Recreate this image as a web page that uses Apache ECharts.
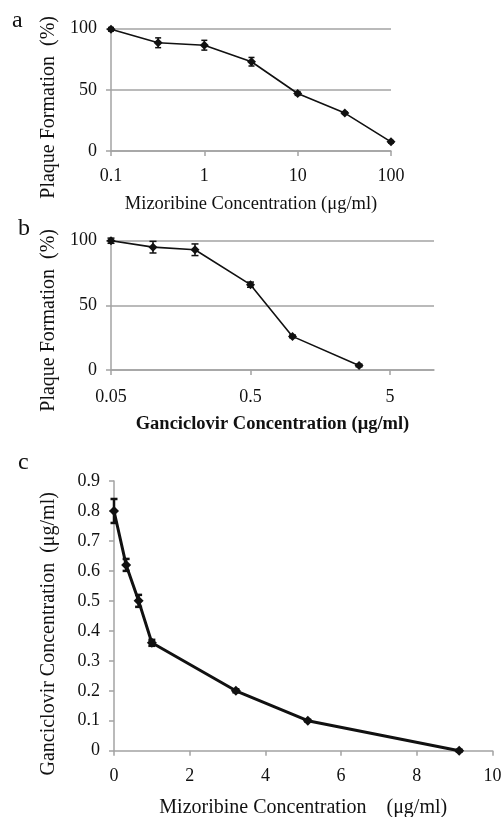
<!DOCTYPE html>
<html>
<head>
<meta charset="utf-8">
<script src="https://cdn.jsdelivr.net/npm/echarts@6/dist/echarts.min.js"></script>
<style>
  html, body { margin: 0; padding: 0; background: #fff; }
  #chart { width: 503px; height: 817px; }
</style>
</head>
<body>
<div id="chart"></div>
<script>
// panel a: mizoribine alone
let mizA = [0.1, 0.32, 1, 3.2, 10, 32, 100];
let plaqueA = [99.5, 88.5, 86.5, 73, 47, 31, 7.5];
let errA = [1.5, 4, 4, 3.5, 1.5, 1, 1];

// panel b: ganciclovir alone
let gcvB = [0.05, 0.1, 0.2, 0.5, 1, 3];
let plaqueB = [100, 95, 93, 66, 26, 3.5];
let errB = [2, 4.5, 4.5, 2, 1, 1];

// panel c: isobologram
let mizC = [0, 0.32, 0.65, 1.0, 3.22, 5.12, 9.12];
let gcvC = [0.8, 0.62, 0.5, 0.36, 0.2, 0.1, 0];
let errC = [0.04, 0.02, 0.02, 0.01, 0.005, 0.003, 0.003];

let ticksA = [0.1, 1, 10, 100];
let ticksB = [0.05, 0.5, 5];

let FONT = '"Liberation Serif", "Times New Roman", serif';
let AXIS = '#a3a3a3';
let INK = '#111';

let myChart = echarts.init(document.getElementById('chart'));

function pairs(xs, ys) {
	return xs.map((x, i) => [x, ys[i]]);
}
function bars(xs, ys, es) {
	return xs.map((x, i) => [x, ys[i] - es[i], ys[i] + es[i]]);
}

function errorItem(cap, width) {
	return function (params, api) {
		let top = api.coord([api.value(0), api.value(2)]);
		let bot = api.coord([api.value(0), api.value(1)]);
		let st = { stroke: INK, lineWidth: width };
		return {
			type: 'group',
			children: [
				{ type: 'line', shape: { x1: top[0], y1: top[1], x2: bot[0], y2: bot[1] }, style: st },
				{ type: 'line', shape: { x1: top[0] - cap, y1: top[1], x2: top[0] + cap, y2: top[1] }, style: st },
				{ type: 'line', shape: { x1: bot[0] - cap, y1: bot[1], x2: bot[0] + cap, y2: bot[1] }, style: st }
			]
		};
	};
}

let label = { color: INK, fontFamily: FONT, fontSize: 18 };
let nameStyle = { color: INK, fontFamily: FONT, fontSize: 18.5 };
let vNameStyle = { color: INK, fontFamily: FONT, fontSize: 20 };
let line = { show: true, lineStyle: { color: AXIS, width: 1.5 } };
let tick = { show: true, length: 5, lineStyle: { color: AXIS, width: 1.5 } };
let grid = { show: true, lineStyle: { color: AXIS, width: 1.5 } };

option = {
	animation: false,
	backgroundColor: '#fff',
	graphic: [
		{ type: 'text', left: 12, top: 9, style: { text: 'a', font: '24px ' + FONT, fill: INK } },
		{ type: 'text', left: 18, top: 217, style: { text: 'b', font: '24px ' + FONT, fill: INK } },
		{ type: 'text', left: 18, top: 451, style: { text: 'c', font: '24px ' + FONT, fill: INK } }
	],
	grid: [
		{ left: 111, right: 112, top: 28.7, height: 122.3, outerBoundsMode: 'none' },
		{ left: 111, right: 69, top: 240.7, height: 129.3, outerBoundsMode: 'none' },
		{ left: 114, right: 10.5, top: 481, height: 269.7, outerBoundsMode: 'none' }
	],
	xAxis: [
		{
			gridIndex: 0, type: 'log', logBase: 10, min: 0.1, max: 100,
			name: 'Mizoribine Concentration (μg/ml)', nameLocation: 'middle', nameGap: 44,
			nameTextStyle: nameStyle,
			axisLine: line, axisTick: Object.assign({ customValues: ticksA }, tick),
			axisLabel: Object.assign({ margin: 16, customValues: ticksA }, label),
			splitLine: { show: false }, minorTick: { show: false }
		},
		{
			gridIndex: 1, type: 'log', logBase: 10, min: 0.05, max: 10.34,
			name: 'Ganciclovir Concentration (μg/ml)', nameLocation: 'middle', nameGap: 45,
			nameTextStyle: Object.assign({}, nameStyle, { fontWeight: 'bold' }),
			axisLine: line, axisTick: Object.assign({ customValues: ticksB }, tick),
			axisLabel: Object.assign({ margin: 18, customValues: ticksB }, label),
			splitLine: { show: false }, minorTick: { show: false }
		},
		{
			gridIndex: 2, type: 'value', min: 0, max: 10, interval: 2,
			name: 'Mizoribine Concentration    (μg/ml)', nameLocation: 'middle', nameGap: 47,
			nameTextStyle: Object.assign({}, nameStyle, { fontSize: 20 }),
			axisLine: line, axisTick: tick,
			axisLabel: Object.assign({ margin: 17 }, label),
			splitLine: { show: false }
		}
	],
	yAxis: [
		{
			gridIndex: 0, type: 'value', min: 0, max: 100, interval: 50,
			name: 'Plaque Formation  (%)', nameLocation: 'middle', nameGap: 52,
			nameTextStyle: Object.assign({ padding: [0, 35, 0, 0] }, vNameStyle),
			axisLine: line, axisTick: tick,
			axisLabel: Object.assign({ margin: 14 }, label),
			splitLine: grid
		},
		{
			gridIndex: 1, type: 'value', min: 0, max: 100, interval: 50,
			name: 'Plaque Formation  (%)', nameLocation: 'middle', nameGap: 52,
			nameTextStyle: Object.assign({ padding: [0, 30, 0, 0] }, vNameStyle),
			axisLine: line, axisTick: tick,
			axisLabel: Object.assign({ margin: 14 }, label),
			splitLine: grid
		},
		{
			gridIndex: 2, type: 'value', min: 0, max: 0.9, interval: 0.1,
			name: 'Ganciclovir Concentration  (μg/ml)', nameLocation: 'middle', nameGap: 55,
			nameTextStyle: Object.assign({ padding: [0, 36, 0, 0] }, vNameStyle),
			axisLine: line, axisTick: tick,
			axisLabel: Object.assign({ margin: 14 }, label),
			splitLine: { show: false }
		}
	],
	series: [
		{
			type: 'custom', xAxisIndex: 0, yAxisIndex: 0, clip: false,
			renderItem: errorItem(3, 1.5), encode: { x: 0, y: [1, 2] },
			data: bars(mizA, plaqueA, errA), z: 3
		},
		{
			type: 'line', xAxisIndex: 0, yAxisIndex: 0,
			data: pairs(mizA, plaqueA), symbol: 'diamond', symbolSize: 9,
			lineStyle: { color: INK, width: 1.6 }, itemStyle: { color: INK }, z: 4
		},
		{
			type: 'custom', xAxisIndex: 1, yAxisIndex: 1, clip: false,
			renderItem: errorItem(3.5, 1.5), encode: { x: 0, y: [1, 2] },
			data: bars(gcvB, plaqueB, errB), z: 3
		},
		{
			type: 'line', xAxisIndex: 1, yAxisIndex: 1,
			data: pairs(gcvB, plaqueB), symbol: 'diamond', symbolSize: 9,
			lineStyle: { color: INK, width: 1.6 }, itemStyle: { color: INK }, z: 4
		},
		{
			type: 'custom', xAxisIndex: 2, yAxisIndex: 2, clip: false,
			renderItem: errorItem(3.5, 2.5), encode: { x: 0, y: [1, 2] },
			data: bars(mizC, gcvC, errC), z: 3
		},
		{
			type: 'line', xAxisIndex: 2, yAxisIndex: 2, clip: false,
			data: pairs(mizC, gcvC), symbol: 'diamond', symbolSize: 10,
			lineStyle: { color: INK, width: 3 }, itemStyle: { color: INK }, z: 4
		}
	]
};

myChart.setOption(option);
</script>
</body>
</html>
